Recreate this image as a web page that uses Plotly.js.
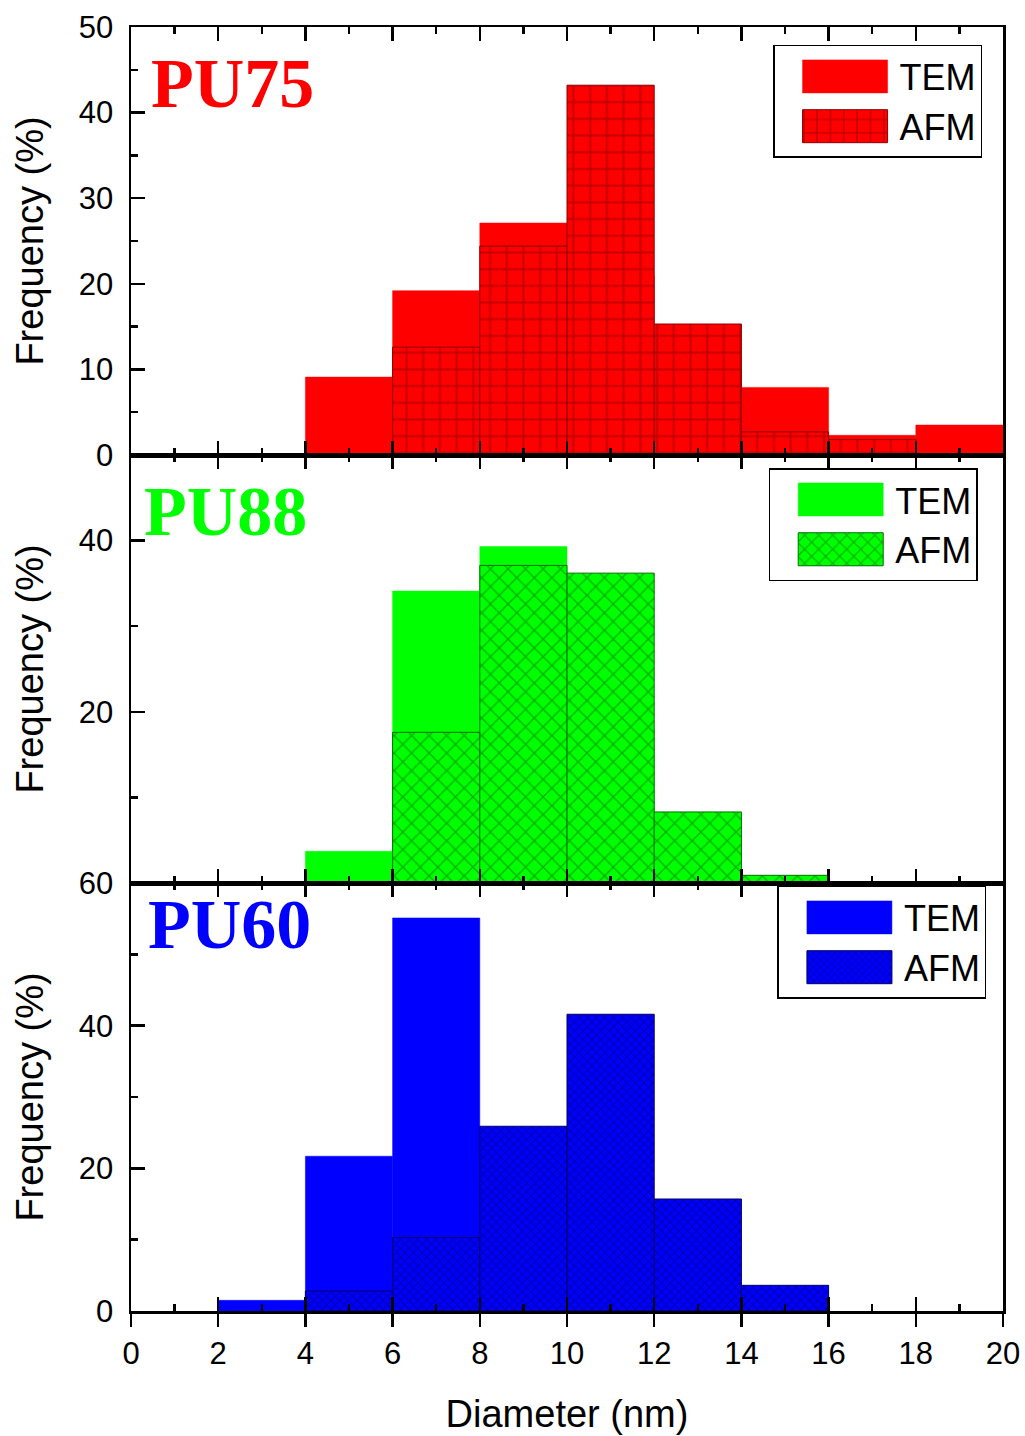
<!DOCTYPE html>
<html>
<head>
<meta charset="utf-8">
<script src="https://cdn.plot.ly/plotly-3.0.1.min.js"></script>
<style>html,body{margin:0;padding:0;background:#fff;}#chart{width:1025px;height:1436px;}</style>
</head>
<body>
<div id="chart"></div>
<script>
// Bin centers (nm), bins are 2 nm wide
const binCenters = [1, 3, 5, 7, 9, 11, 13, 15, 17, 19];
const binWidth = 2;

// PU75 frequencies (%)
const pu75TEM = [null, null, 9.1, 19.2, 27.1, 20.9, 10.0, 7.9, 2.3, 3.5];
const pu75AFM = [null, null, null, 12.6, 24.4, 43.2, 15.3, 2.7, 1.8, null];

// PU88 frequencies (%)
const pu88TEM = [null, null, 3.7, 34.1, 39.3, 18.0, 4.9, null, null, null];
const pu88AFM = [null, null, null, 17.6, 37.1, 36.2, 8.3, 0.9, null, null];

// PU60 frequencies (%)
const pu60TEM = [null, 1.5, 21.7, 55.1, 21.7, null, null, null, null, null];
const pu60AFM = [null, null, 2.8, 10.3, 25.9, 41.6, 15.7, 3.6, null, null];

const seriesNames = ['TEM', 'AFM'];
const panelLabels = ['PU75', 'PU88', 'PU60'];

const FONT = 'Liberation Sans, Arial, sans-serif';

function temTrace(y, color, xa, ya, lg) {
  return {type: 'bar', x: binCenters, y: y, width: binWidth, name: seriesNames[0],
    xaxis: xa, yaxis: ya, legend: lg,
    marker: {color: color, line: {color: color, width: 0.5}}};
}
function afmTrace(y, color, dark, shape, size, sol, xa, ya, lg) {
  return {type: 'bar', x: binCenters, y: y, width: binWidth, name: seriesNames[1],
    xaxis: xa, yaxis: ya, legend: lg,
    marker: {color: color, line: {color: dark, width: 1},
      pattern: {shape: shape, size: size, solidity: sol, fgcolor: dark, fillmode: 'overlay'}}};
}

const data = [
  temTrace(pu75TEM, '#ff0000', 'x', 'y', 'legend'),
  afmTrace(pu75AFM, '#ff0000', '#8b0000', '+', 16.7, 0.22, 'x', 'y', 'legend'),
  temTrace(pu88TEM, '#00ff00', 'x2', 'y2', 'legend2'),
  afmTrace(pu88AFM, '#00ff00', '#007000', 'x', 12.4, 0.23, 'x2', 'y2', 'legend2'),
  temTrace(pu60TEM, '#0000ff', 'x3', 'y3', 'legend3'),
  afmTrace(pu60AFM, '#0000ff', '#000066', 'x', 6.15, 0.35, 'x4', 'y3', 'legend3')
];

const LW = 2.5;
function frameX(anchor) {
  return {anchor: anchor, domain: [0, 1], range: [0, 20], tick0: 0, dtick: 2,
    showline: true, linecolor: 'black', linewidth: LW, mirror: 'allticks',
    ticks: 'inside', ticklen: 14, tickwidth: LW, tickcolor: 'black',
    minor: {ticks: 'inside', ticklen: 7, tickwidth: LW, tickcolor: 'black', dtick: 1, tick0: 0},
    showticklabels: false, showgrid: false, zeroline: false, fixedrange: true};
}
function frameY(anchor, domain, range, extra) {
  return Object.assign({anchor: anchor, domain: domain, range: range,
    showline: true, linecolor: 'black', linewidth: LW, mirror: true,
    ticks: 'inside', ticklen: 14, tickwidth: LW, tickcolor: 'black',
    tickfont: {family: FONT, size: 31, color: 'black'}, ticklabelstandoff: 9,
    title: {text: 'Frequency (%)', font: {family: FONT, size: 38, color: 'black'}, standoff: 24},
    showgrid: false, zeroline: false, fixedrange: true}, extra);
}

function legendAt(x, y) {
  return {x: x, y: y, xanchor: 'right', yanchor: 'top', xref: 'paper', yref: 'paper',
    bgcolor: 'white', bordercolor: 'black', borderwidth: 1.5,
    font: {family: FONT, size: 36, color: 'black'}, itemwidth: 115,
    tracegroupgap: 0, traceorder: 'normal'};
}

function panelLabel(text, color, xa, ya, xx, yy) {
  return {text: '<b>' + text + '</b>', xref: xa + ' domain', yref: ya + ' domain', x: xx, y: yy,
    xanchor: 'left', yanchor: 'middle', showarrow: false,
    font: {family: 'Liberation Serif, Times New Roman, serif', size: 70, color: color}};
}

const layout = {
  width: 1025, height: 1436,
  margin: {l: 131, r: 22, t: 27, b: 125},
  paper_bgcolor: 'white', plot_bgcolor: 'white',
  barmode: 'overlay', bargap: 0,
  showlegend: true,
  xaxis: frameX('y'),
  xaxis2: frameX('y2'),
  xaxis3: frameX('y3'),
  xaxis4: {overlaying: 'x3', anchor: 'y3', side: 'bottom', range: [0, 20], tick0: 0, dtick: 2,
    ticks: 'outside', ticklen: 15, tickwidth: LW, tickcolor: 'black', showline: false,
    tickfont: {family: FONT, size: 31, color: 'black'},
    title: {text: 'Diameter (nm)', font: {family: FONT, size: 38, color: 'black'}, standoff: 30},
    showgrid: false, zeroline: false, fixedrange: true},
  yaxis: frameY('x', [2/3, 1], [0, 50], {tick0: 0, dtick: 10,
    minor: {ticks: 'inside', ticklen: 7, tickwidth: LW, tickcolor: 'black', dtick: 5, tick0: 0}}),
  yaxis2: frameY('x2', [1/3, 2/3], [0, 50], {tickmode: 'array', tickvals: [20, 40],
    minor: {ticks: 'inside', ticklen: 7, tickwidth: LW, tickcolor: 'black', tickmode: 'array', tickvals: [10, 30]}}),
  yaxis3: frameY('x3', [0, 1/3], [0, 60], {tick0: 0, dtick: 20,
    minor: {ticks: 'inside', ticklen: 7, tickwidth: LW, tickcolor: 'black', dtick: 10, tick0: 0}}),
  legend: legendAt(0.976, 0.986),
  legend2: legendAt(0.971, 0.6565),
  legend3: legendAt(0.981, 0.331),
  annotations: [
    panelLabel(panelLabels[0], '#ff0000', 'x', 'y', 0.021, 0.869),
    panelLabel(panelLabels[1], '#00ff00', 'x2', 'y2', 0.013, 0.869),
    panelLabel(panelLabels[2], '#0000ff', 'x3', 'y3', 0.017, 0.902)
  ]
};

function enlargeSwatches() {
  document.querySelectorAll('#chart .legendpoints path').forEach(function (p) {
    p.setAttribute('d', 'M50.5,16.5H-34.5V-16.5H50.5Z');
  });
  // give legend swatches the same hatch spacing as the bars
  const pats = Array.prototype.slice.call(document.querySelectorAll('#chart pattern'));
  pats.forEach(function (lp) {
    const k = lp.id.indexOf('legend-');
    if (k < 0) return;
    const uid = lp.id.slice(k + 7);
    const src = pats.find(function (p) { return p !== lp && p.id.indexOf('legend-') < 0 && p.id.indexOf(uid) >= 0; });
    if (src) {
      lp.setAttribute('width', src.getAttribute('width'));
      lp.setAttribute('height', src.getAttribute('height'));
      lp.innerHTML = src.innerHTML;
    }
  });
}

const gd = document.getElementById('chart');
Plotly.newPlot(gd, data, layout, {displayModeBar: false, staticPlot: true}).then(function () {
  enlargeSwatches();
  gd.on('plotly_afterplot', enlargeSwatches);
});
</script>
</body>
</html>
